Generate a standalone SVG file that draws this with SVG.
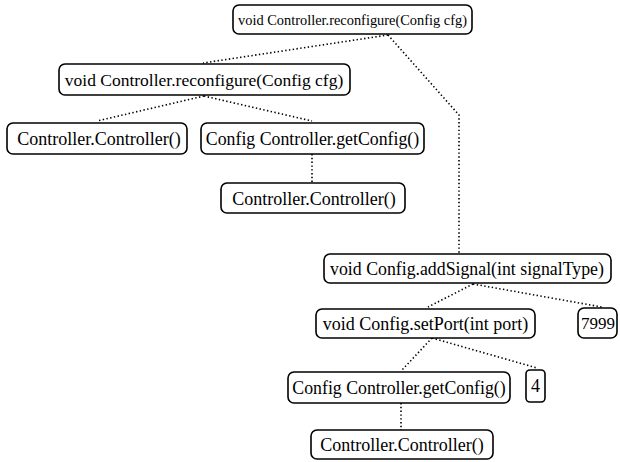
<svg xmlns="http://www.w3.org/2000/svg" width="620" height="462" viewBox="0 0 620 462">
<style>
.box{fill:#fff;stroke:#000;stroke-width:1.6}
text{font-family:'Liberation Serif','Times New Roman',serif;font-size:18px;fill:#000;text-anchor:middle}
.e{fill:none;stroke:#000;stroke-width:1.6;stroke-dasharray:1.4 2.4}
</style>
<rect width="620" height="462" fill="#fff"/>
<g id="connectors">
<path class="e" d="M388,35 L203,63"/>
<path class="e" d="M388,35 L459,115 L459,253"/>
<path class="e" d="M204,96 L97,121"/>
<path class="e" d="M204,96 L312,121"/>
<path class="e" d="M312,154 L312,183"/>
<path class="e" d="M473,284 L428,307"/>
<path class="e" d="M473,284 L602,307"/>
<path class="e" d="M432,338 L402,370"/>
<path class="e" d="M432,338 L537,368"/>
<path class="e" d="M401,403 L401,432"/>
</g>
<g id="n1"><rect class="box" x="233" y="5" width="239" height="29" rx="6"/><text x="352.5" y="24.5" style="font-size:14.4px">void Controller.reconfigure(Config cfg)</text></g>
<g id="n2"><rect class="box" x="59" y="64" width="291" height="31" rx="6"/><text x="204" y="86" style="font-size:17.5px">void Controller.reconfigure(Config cfg)</text></g>
<g id="n3"><rect class="box" x="7" y="123" width="180" height="31" rx="6"/><text x="99" y="145">Controller.Controller()</text></g>
<g id="n4"><rect class="box" x="201" y="123" width="223" height="31" rx="6"/><text x="312.5" y="145" style="font-size:17.8px">Config Controller.getConfig()</text></g>
<g id="n5"><rect class="box" x="221" y="183" width="184" height="30" rx="6"/><text x="314" y="204.5">Controller.Controller()</text></g>
<g id="n6"><rect class="box" x="324" y="254" width="287" height="29" rx="6"/><text x="467" y="274.5" style="font-size:17.8px">void Config.addSignal(int signalType)</text></g>
<g id="n7"><rect class="box" x="578" y="308" width="39" height="30" rx="6"/><text x="598" y="329" style="font-size:17px">7999</text></g>
<g id="n8"><rect class="box" x="316" y="309" width="219" height="29" rx="6"/><text x="425.5" y="329.5">void Config.setPort(int port)</text></g>
<g id="n9"><rect class="box" x="288" y="372" width="222" height="31" rx="6"/><text x="399" y="393.5" style="font-size:17.8px">Config Controller.getConfig()</text></g>
<g id="n10"><rect class="box" x="526" y="370" width="19" height="32" rx="4"/><text x="535.5" y="391.5">4</text></g>
<g id="n11"><rect class="box" x="311" y="430" width="182" height="29" rx="6"/><text x="402" y="450.5">Controller.Controller()</text></g>
</svg>
